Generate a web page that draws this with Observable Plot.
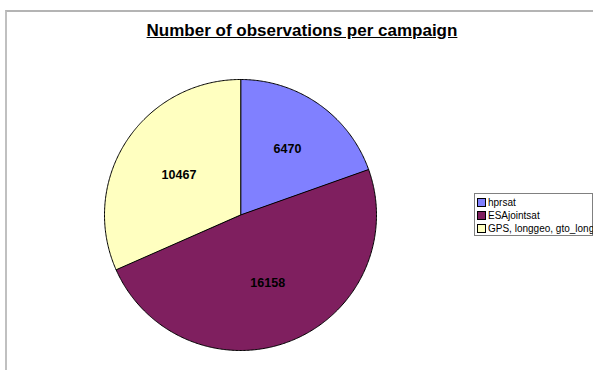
<!DOCTYPE html>
<html>
<head>
<meta charset="utf-8">
<script src="https://cdn.jsdelivr.net/npm/d3@7"></script>
<script src="https://cdn.jsdelivr.net/npm/@observablehq/plot@0.6"></script>
<style>
  html, body { margin: 0; padding: 0; background: #fff; }
  #wrap { position: relative; width: 593px; height: 370px; overflow: hidden; font-family: Arial, "Liberation Sans", sans-serif; }
  #frame { position: absolute; left: 5px; top: 10px; width: 700px; height: 500px; border-left: 2px solid #c0c0c0; border-top: 2px solid #b4b4b4; box-sizing: border-box; }
  #title { position: absolute; left: 0; width: 604px; top: 21px; text-align: center; font-weight: bold; font-size: 17px; text-decoration: underline; color: #000; }
  #chart { position: absolute; left: 0; top: 0; }
  #legend { position: absolute; left: 474px; top: 193px; width: 119px; height: 43px; border: 1px solid #808080; box-sizing: border-box; background: #fff; font-size: 10px; color: #000; padding: 2px 0 0 2px; }
  .row { height: 13px; line-height: 13px; white-space: nowrap; display: flex; align-items: center; }
  .sw { width: 7px; height: 7px; border: 1px solid #000; margin-right: 2px; flex: none; }
</style>
</head>
<body>
<div id="wrap">
  <div id="frame"></div>
  <div id="chart"></div>
  <div id="title">Number of observations per campaign</div>
  <div id="legend"></div>
</div>
<script>
const categories = ["hprsat", "ESAjointsat", "GPS, longgeo, gto_long"];
const values = [6470, 16158, 10467];
const colors = ["#8080FF", "#7F1F5F", "#FFFFC0"];

const pie = d3.pie().sort(null).value(d => d.value)(
  categories.map((c, i) => ({category: c, value: values[i]}))
);

// Polygon outline points for each slice (unit circle, angle clockwise from north)
const outline = [];
pie.forEach((p, i) => {
  const cat = p.data.category;
  outline.push({cat, x: 0, y: 0});
  const n = Math.max(2, Math.ceil((p.endAngle - p.startAngle) / 0.01));
  for (let k = 0; k <= n; k++) {
    const a = p.startAngle + (p.endAngle - p.startAngle) * k / n;
    outline.push({cat, x: Math.sin(a), y: Math.cos(a)});
  }
});

const labels = pie.map(p => {
  const a = (p.startAngle + p.endAngle) / 2;
  // small slices get labels a little further out, as in the reference
  const frac = (p.endAngle - p.startAngle) / (2 * Math.PI);
  const r = frac < 0.25 ? 0.6 : 0.54;
  return {text: String(p.data.value), x: r * Math.sin(a), y: r * Math.cos(a)};
});

const chart = Plot.plot({
  width: 593,
  height: 370,
  marginLeft: 104,
  marginRight: 217,
  marginTop: 79,
  marginBottom: 20,
  x: {domain: [-1, 1], axis: null},
  y: {domain: [-1, 1], axis: null},
  color: {domain: categories, range: colors},
  style: {background: "transparent", overflow: "visible"},
  marks: [
    Plot.line(outline, {x: "x", y: "y", z: "cat", fill: "cat", stroke: "#000", strokeWidth: 1, curve: "linear-closed"}),
    Plot.text(labels, {x: "x", y: "y", text: "text", fontWeight: "bold", fontSize: 12.5, fill: "#000", fontFamily: "Arial, Liberation Sans, sans-serif"})
  ]
});
document.getElementById("chart").appendChild(chart);

const legend = document.getElementById("legend");
categories.forEach((c, i) => {
  const row = document.createElement("div");
  row.className = "row";
  const sw = document.createElement("span");
  sw.className = "sw";
  sw.style.background = colors[i];
  const t = document.createElement("span");
  t.textContent = c;
  row.appendChild(sw);
  row.appendChild(t);
  legend.appendChild(row);
});
</script>
</body>
</html>
